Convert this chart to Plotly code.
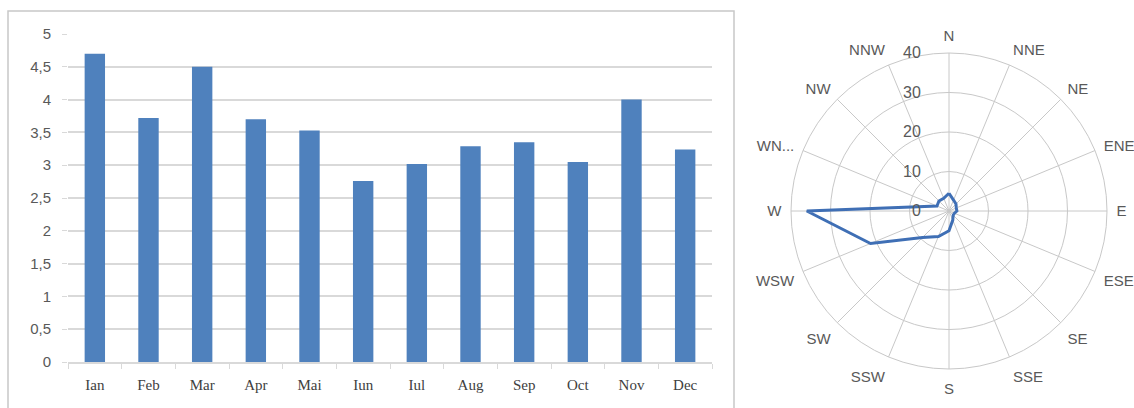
import plotly.graph_objects as go

# Monthly means (bar chart)
months = ["Ian", "Feb", "Mar", "Apr", "Mai", "Iun", "Iul", "Aug", "Sep", "Oct", "Nov", "Dec"]
monthly_values = [4.7, 3.72, 4.5, 3.7, 3.53, 2.76, 3.02, 3.29, 3.35, 3.05, 4.0, 3.24]
y_ticks = [0, 0.5, 1, 1.5, 2, 2.5, 3, 3.5, 4, 4.5, 5]
y_tick_text = ["0", "0,5", "1", "1,5", "2", "2,5", "3", "3,5", "4", "4,5", "5"]

# Wind direction frequencies (radar chart)
directions = ["N", "NNE", "NE", "ENE", "E", "ESE", "SE", "SSE",
              "S", "SSW", "SW", "WSW", "W", "WN...", "NW", "NNW"]
direction_angles = [0, 22.5, 45, 67.5, 90, 112.5, 135, 157.5,
                    180, 202.5, 225, 247.5, 270, 292.5, 315, 337.5]
direction_values = [4.5, 3.0, 2.5, 2.0, 2.0, 1.5, 1.5, 2.5,
                    5.0, 7.0, 9.5, 21.5, 36.0, 3.3, 3.6, 3.5]
radial_ticks = [0, 10, 20, 30, 40]

BAR_BLUE = "#4f81bd"
LINE_BLUE = "#3f6fb5"
GRID = "#d9d9d9"
POLAR_GRID = "#c8c8c8"
TEXT = "#595959"

fig = go.Figure()

fig.add_trace(go.Bar(
    x=months, y=monthly_values, marker=dict(color=BAR_BLUE, line=dict(width=0)),
    width=0.38, xaxis="x", yaxis="y", showlegend=False, hoverinfo="x+y",
))

# close the polygon by repeating the first point
fig.add_trace(go.Scatterpolar(
    r=direction_values + direction_values[:1],
    theta=direction_angles + direction_angles[:1],
    mode="lines", line=dict(color=LINE_BLUE, width=3),
    subplot="polar", showlegend=False,
))

W, H = 1134, 408
cx, cy, rad = 949, 211, 158

fig.update_layout(
    width=W, height=H,
    margin=dict(l=0, r=0, t=0, b=0, autoexpand=False),
    paper_bgcolor="white", plot_bgcolor="white",
    xaxis=dict(
        domain=[68 / W, 712 / W], anchor="y", automargin=False,
        showgrid=False, showline=True, linecolor=GRID, linewidth=1.5,
        ticks="outside", tickson="boundaries", ticklen=5, tickcolor=GRID,
        tickfont=dict(family="Liberation Serif", size=15, color="#404040"),
        ticklabelstandoff=8,
    ),
    yaxis=dict(
        domain=[(H - 362) / H, (H - 34) / H], anchor="x", automargin=False,
        range=[0, 5], tickvals=y_ticks, ticktext=y_tick_text,
        showgrid=True, gridcolor=GRID, gridwidth=1.5, zeroline=False,
        showline=False, ticks="outside", ticklen=5, tickcolor=GRID,
        tickfont=dict(family="Liberation Sans", size=15, color=TEXT),
        ticklabelstandoff=8,
    ),
    polar=dict(
        domain=dict(x=[(cx - rad) / W, (cx + rad) / W],
                    y=[(H - cy - rad) / H, (H - cy + rad) / H]),
        bgcolor="white",
        gridshape="linear",
        radialaxis=dict(
            range=[0, 40], tickvals=radial_ticks, angle=90, tickangle=90,
            showline=False, showgrid=True, gridcolor=POLAR_GRID, gridwidth=1,
            ticks="outside", ticklen=22, tickcolor="rgba(0,0,0,0)",
            side="counterclockwise",
            tickfont=dict(family="Liberation Sans", size=16, color=TEXT),
        ),
        angularaxis=dict(
            rotation=90, direction="clockwise",
            tickvals=direction_angles, ticktext=directions,
            showgrid=True, gridcolor=POLAR_GRID, gridwidth=1,
            showline=True, linecolor=POLAR_GRID, linewidth=1,
            ticks="outside", ticklen=6, tickcolor="rgba(0,0,0,0)",
            tickfont=dict(family="Liberation Sans", size=15, color=TEXT),
        ),
    ),
    shapes=[dict(
        type="rect", xref="paper", yref="paper",
        x0=8 / W, x1=734 / W, y0=-0.02, y1=(H - 11) / H,
        line=dict(color="#c8c8c8", width=1.5), fillcolor="rgba(0,0,0,0)",
        layer="below",
    )],
)

fig.write_html("out.html")
